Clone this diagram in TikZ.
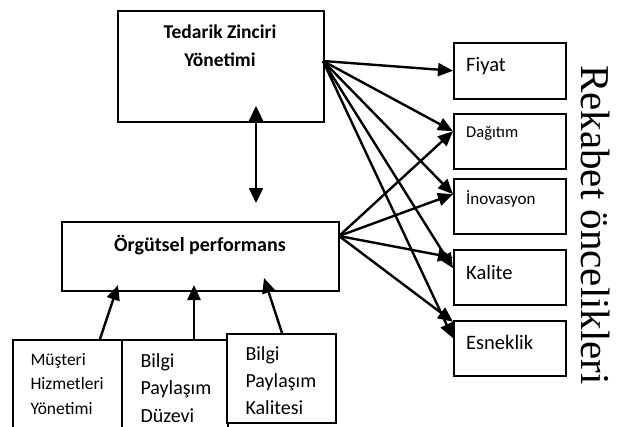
\documentclass[tikz,border=0pt]{standalone}
\usepackage{fontspec}
\setmainfont{Carlito}
\newfontfamily\rekfont{Liberation Serif}
\usetikzlibrary{arrows.meta}

\tikzset{
  kutu/.style={draw, line width=1.5pt, inner sep=0pt, anchor=north west},
  okcizgi/.style={line width=2.4pt, -{Triangle[length=15pt,width=13pt]}},
  ciftok/.style={line width=2.4pt, {Triangle[length=15pt,width=14pt]}-{Triangle[length=15pt,width=14pt]}},
  sagyazi/.style={anchor=west, inner sep=0pt},
}

\begin{document}
\begin{tikzpicture}[x=1pt,y=-1pt]
\useasboundingbox (0,0) rectangle (620,426);
% ana kutular
\node[kutu, minimum width=206pt, minimum height=111pt] (tedarik) at (117,10) {};
\node[kutu, minimum width=277pt, minimum height=69pt] (orgutsel) at (61,221) {};
\node[align=center, font=\bfseries\fontsize{19.5}{28}\selectfont] (tedarikyazi) at (220,46) {Tedarik Zinciri\\Yönetimi};
\node[font=\bfseries\fontsize{20}{24}\selectfont] (orgutselyazi) at (200,245) {Örgütsel performans};
% rekabet kutulari
\node[kutu, minimum width=112pt, minimum height=56pt] (fiyat) at (453,42) {};
\node[kutu, minimum width=112pt, minimum height=55pt] (dagitim) at (453,113) {};
\node[kutu, minimum width=112pt, minimum height=55pt] (inovasyon) at (453,178) {};
\node[kutu, minimum width=112pt, minimum height=55pt] (kalite) at (453,249) {};
\node[kutu, minimum width=112pt, minimum height=55pt] (esneklik) at (453,320) {};
\node[sagyazi, font=\fontsize{20.5}{24}\selectfont] (fiyatyazi) at (466,66) {Fiyat};
\node[sagyazi, font=\fontsize{16.5}{20}\selectfont] (dagitimyazi) at (466,133) {Dağıtım};
\node[sagyazi, font=\fontsize{17}{20}\selectfont] (inovasyonyazi) at (466,199) {İnovasyon};
\node[sagyazi, font=\fontsize{20.5}{24}\selectfont] (kaliteyazi) at (466,272) {Kalite};
\node[sagyazi, font=\fontsize{20.5}{24}\selectfont] (esneklikyazi) at (466,342) {Esneklik};
\node[rotate=-90, font=\rekfont\fontsize{41}{41}\selectfont] (rekabet) at (596,225) {Rekabet öncelikleri};
% alt kutular
\node[kutu, minimum width=109pt, minimum height=100pt] (musteri) at (12,339) {};
\node[kutu, minimum width=106pt, minimum height=100pt] (duzey) at (121,339) {};
\node[kutu, minimum width=109pt, minimum height=89pt, fill=white] (kalitesi) at (226,333) {};
\node[anchor=west, align=left, font=\fontsize{17.5}{24.5}\selectfont] (musteriyazi) at (27,384) {Müşteri\\Hizmetleri\\Yönetimi};
\node[anchor=west, align=left, font=\fontsize{20}{27.5}\selectfont] (duzeyyazi) at (137,388) {Bilgi\\Paylaşım\\Düzevi};
\node[anchor=west, align=left, font=\fontsize{20}{27}\selectfont] (kalitesiyazi) at (242,381) {Bilgi\\Paylaşım\\Kalitesi};
% ok uclari
\coordinate (tcikis) at (323,61);
\coordinate (ocikis) at (339,236);
\coordinate (ust) at (256,106);
\coordinate (alt) at (256,203);
\coordinate (m1) at (100,339);
\coordinate (m2) at (118,285);
\coordinate (d1) at (194,339);
\coordinate (d2) at (194,285);
\coordinate (k1) at (282,333);
\coordinate (k2) at (264,278);
% oklar
\draw[ciftok] (alt) -- (ust);
\draw[okcizgi] (m1) -- (m2);
\draw[okcizgi] (d1) -- (d2);
\draw[okcizgi] (k1) -- (k2);
\draw[okcizgi] (tcikis) -- (fiyat.west);
\draw[okcizgi] (tcikis) -- (dagitim.170);
\draw[okcizgi] (tcikis) -- (inovasyon.168);
\draw[okcizgi] (tcikis) -- (kalite.171);
\draw[okcizgi] (tcikis) -- (esneklik.170);
\draw[okcizgi] (ocikis) -- (dagitim.170);
\draw[okcizgi] (ocikis) -- (inovasyon.168);
\draw[okcizgi] (ocikis) -- (kalite.161);
\draw[okcizgi] (ocikis) -- (esneklik.155);
\end{tikzpicture}
\end{document}
